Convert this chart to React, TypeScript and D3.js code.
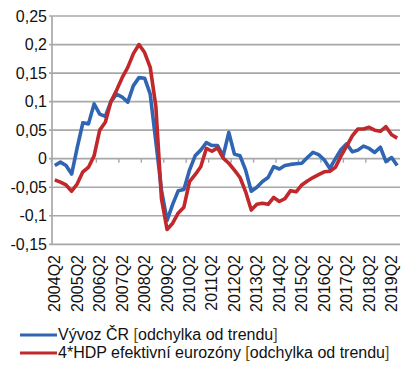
import React from "react";
import * as d3 from "d3";

const years = d3.range(2004, 2020);
// quarters 2004Q2 .. 2019Q3
const quarters: string[] = [];
for (const y of years) {
  for (let q = 1; q <= 4; q++) {
    if ((y === 2004 && q < 2) || (y === 2019 && q > 3)) continue;
    quarters.push(`${y}Q${q}`);
  }
}
const tickLabels = years.map((y) => `${y}Q2`);
const yTicks = [0.25, 0.2, 0.15, 0.1, 0.05, 0, -0.05, -0.1, -0.15];

const exportCZ = [
  -0.012, -0.006, -0.012, -0.027, 0.02, 0.063, 0.061, 0.096, 0.078, 0.074,
  0.1, 0.113, 0.108, 0.099, 0.128, 0.142, 0.141, 0.113, 0.03, -0.055,
  -0.108, -0.08, -0.056, -0.054, -0.02, 0.005, 0.015, 0.028, 0.023, 0.023,
  0.005, 0.046, 0.008, 0.005, -0.02, -0.057, -0.05, -0.04, -0.033, -0.014,
  -0.018, -0.012, -0.01, -0.009, -0.008, 0.002, 0.011, 0.007, -0.002, -0.017,
  0.0, 0.016, 0.026, 0.012, 0.015, 0.022, 0.018, 0.011, 0.02, -0.005,
  0.002, -0.012,
];
const gdpEZ = [
  -0.037, -0.041, -0.046, -0.057, -0.044, -0.023, -0.015, 0.005, 0.05, 0.064,
  0.1, 0.12, 0.142, 0.16, 0.184, 0.2, 0.186, 0.16, 0.092, -0.07,
  -0.124, -0.113, -0.095, -0.085, -0.04, -0.028, -0.014, 0.018, 0.013, 0.019,
  0.001, -0.008, -0.02, -0.033, -0.058, -0.09, -0.08, -0.078, -0.08, -0.068,
  -0.075, -0.07, -0.056, -0.058, -0.046, -0.039, -0.033, -0.028, -0.023, -0.022,
  -0.015, 0.005, 0.022, 0.04, 0.052, 0.052, 0.055, 0.05, 0.048, 0.056,
  0.042, 0.036,
];

const seriesNames = [
  "Vývoz ČR [odchylka od trendu]",
  "4*HDP efektivní eurozóny [odchylka od trendu]",
];
const colors = ["#2f65b2", "#c0282c"];

const W = 404;
const H = 380;
const left = 52;
const right = 400;
const top = 16;
const bottom = 244.3;
const font = "'Liberation Sans', Arial, sans-serif";

export default function App() {
  const x = d3.scaleBand<string>().domain(quarters).range([left, right]);
  const y = d3.scaleLinear().domain([-0.15, 0.25]).range([bottom, top]);
  const cx = (q: string) => (x(q) as number) + x.bandwidth() / 2;
  const line = d3
    .line<number>()
    .x((_, i) => cx(quarters[i]))
    .y((d) => y(d));
  const grid = "#a8a8a8";
  const yearBounds = years.map((yr) => `${yr}Q2`).filter((q) => quarters.includes(q));

  const legendItem = (name: string, i: number) => {
    const ly = 335 + i * 18;
    const parts = name.split(/(\[|\])/);
    return (
      <g key={name}>
        <line x1={20} x2={57} y1={ly} y2={ly} stroke={colors[i]} strokeWidth={3} />
        <text x={58} y={ly + 5} fontSize={16} fontFamily={font} fill="#111">
          {parts.map((p, k) => (
            <tspan key={k} fill={p === "[" || p === "]" ? "#6b4a18" : "#111"}>
              {p}
            </tspan>
          ))}
        </text>
      </g>
    );
  };

  return (
    <svg
      width={W}
      height={H}
      style={{ position: "absolute", left: 0, top: 0, background: "#fff" }}
    >
      {yTicks.map((t) => (
        <g key={t}>
          <line x1={left - 3} x2={right} y1={y(t)} y2={y(t)} stroke={grid} strokeWidth={1.7} />
          <text
            x={47}
            y={y(t)}
            textAnchor="end"
            dominantBaseline="central"
            fontSize={16}
            fontFamily={font}
            fill="#111"
          >
            {t.toString().replace(".", ",")}
          </text>
        </g>
      ))}
      <line x1={left} x2={left} y1={top} y2={bottom} stroke={grid} strokeWidth={1.7} />
      {yearBounds.map((q) => (
        <line
          key={q}
          x1={(x(q) as number) - 0.5}
          x2={(x(q) as number) - 0.5}
          y1={y(0)}
          y2={y(0) + 4}
          stroke={grid}
          strokeWidth={1.4}
        />
      ))}
      {tickLabels.map((q) => (
        <text
          key={q}
          transform={`translate(${cx(q)},255) rotate(-90)`}
          textAnchor="end"
          dominantBaseline="central"
          fontSize={16}
          fontFamily={font}
          fill="#111"
        >
          {q}
        </text>
      ))}
      <path d={line(exportCZ) || ""} fill="none" stroke={colors[0]} strokeWidth={3.6} strokeLinejoin="round" />
      <path d={line(gdpEZ) || ""} fill="none" stroke={colors[1]} strokeWidth={3.6} strokeLinejoin="round" />
      {seriesNames.map(legendItem)}
    </svg>
  );
}
